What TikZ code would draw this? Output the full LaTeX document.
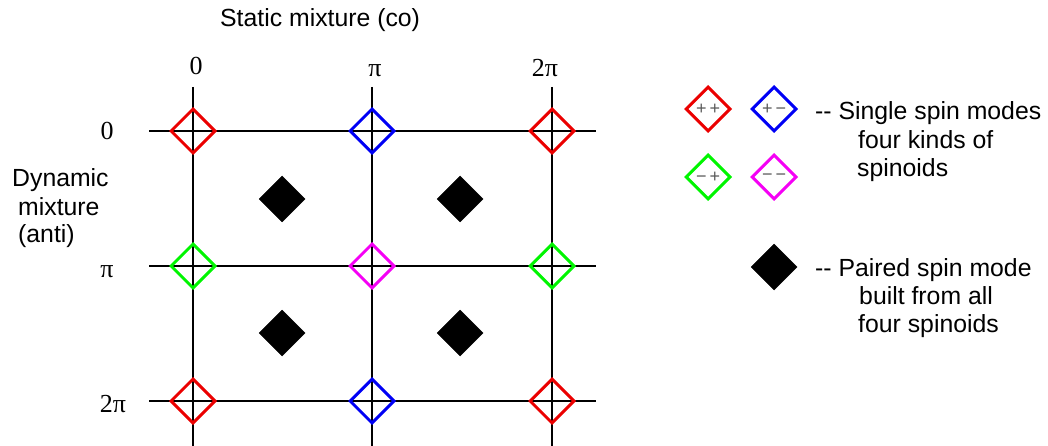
\documentclass[tikz,border=0pt]{standalone}
\usepackage{fontspec}
\setmainfont{Liberation Sans}
\newfontfamily\serifnum{Liberation Serif}
\usetikzlibrary{shapes.geometric}
\tikzset{
  gridline/.style={line width=2.8pt, black},
  spin/.style={shape=diamond, aspect=1, minimum size=45pt, inner sep=0pt, draw=#1, line width=3pt},
  paired/.style={shape=diamond, aspect=1, minimum size=46pt, inner sep=0pt, fill=black, draw=black, line width=0.5pt},
  spinlbl/.style={font=\fontsize{18}{18}\selectfont, text=black!65},
  axlbl/.style={font=\serifnum\fontsize{26}{26}\selectfont, anchor=base, inner sep=0pt},
  txt/.style={font=\fontsize{24.8}{28.5}\selectfont, anchor=base west, inner sep=0pt},
}
\definecolor{sred}{RGB}{235,0,0}
\definecolor{sblue}{RGB}{0,0,245}
\definecolor{sgreen}{RGB}{0,245,0}
\definecolor{smag}{RGB}{245,0,245}
\begin{document}
\begin{tikzpicture}[x=1pt,y=-1pt]
\useasboundingbox (0,0) rectangle (1048,446);
% grid coordinates
\coordinate (v1t) at (193,87);  \coordinate (v1b) at (193,446);
\coordinate (v2t) at (372,87);  \coordinate (v2b) at (372,446);
\coordinate (v3t) at (552,87);  \coordinate (v3b) at (552,446);
\coordinate (h1l) at (149,131); \coordinate (h1r) at (596,131);
\coordinate (h2l) at (149,266); \coordinate (h2r) at (596,266);
\coordinate (h3l) at (149,401); \coordinate (h3r) at (596,401);
\draw[gridline] (v1t) -- (v1b);
\draw[gridline] (v2t) -- (v2b);
\draw[gridline] (v3t) -- (v3b);
\draw[gridline] (h1l) -- (h1r);
\draw[gridline] (h2l) -- (h2r);
\draw[gridline] (h3l) -- (h3r);
% single spin modes on the grid
\node[spin=sred]   (d11) at (193,131) {};
\node[spin=sblue]  (d21) at (372,131) {};
\node[spin=sred]   (d31) at (552,131) {};
\node[spin=sgreen] (d12) at (193,266) {};
\node[spin=smag]   (d22) at (372,266) {};
\node[spin=sgreen] (d32) at (552,266) {};
\node[spin=sred]   (d13) at (193,401) {};
\node[spin=sblue]  (d23) at (372,401) {};
\node[spin=sred]   (d33) at (552,401) {};
% paired spin modes
\node[paired] (p1) at (282,199) {};
\node[paired] (p2) at (460,199) {};
\node[paired] (p3) at (282,333) {};
\node[paired] (p4) at (460,333) {};
% axis labels
\node[txt] (title) at (220,27) {Static mixture (co)};
\node[axlbl] (t0) at (196,75) {0};
\node[axlbl] (t1) at (375,77) {π};
\node[axlbl] (t2) at (545,77) {2π};
\node[axlbl] (l0) at (107,140) {0};
\node[axlbl] (l1) at (107,277) {π};
\node[axlbl] (l2) at (113,412) {2π};
\node[txt] (dyn1) at (12,187) {Dynamic};
\node[txt] (dyn2) at (18,215) {mixture};
\node[txt] (dyn3) at (18,243) {(anti)};
% legend
\node[spin=sred]   (g1) at (708,109) {};
\node[spin=sblue]  (g2) at (774,109) {};
\node[spin=sgreen] (g3) at (708,177) {};
\node[spin=smag]   (g4) at (774,177) {};
\node[spinlbl] (g1t) at (g1) {+\,+};
\node[spinlbl] (g2t) at (g2) {+\,−};
\node[spinlbl] (g3t) at (g3) {−\,+};
\node[spinlbl] (g4t) at (g4) {−\,−};
\node[paired] (gp) at (774,267) {};
\node[txt] (s1) at (815,120) {-{}- Single spin modes};
\node[txt] (s2) at (858,149) {four kinds of};
\node[txt] (s3) at (857,177) {spinoids};
\node[txt] (q1) at (815,276) {-{}- Paired spin mode};
\node[txt] (q2) at (859,304) {built from all};
\node[txt] (q3) at (858,332) {four spinoids};
\end{tikzpicture}
\end{document}
